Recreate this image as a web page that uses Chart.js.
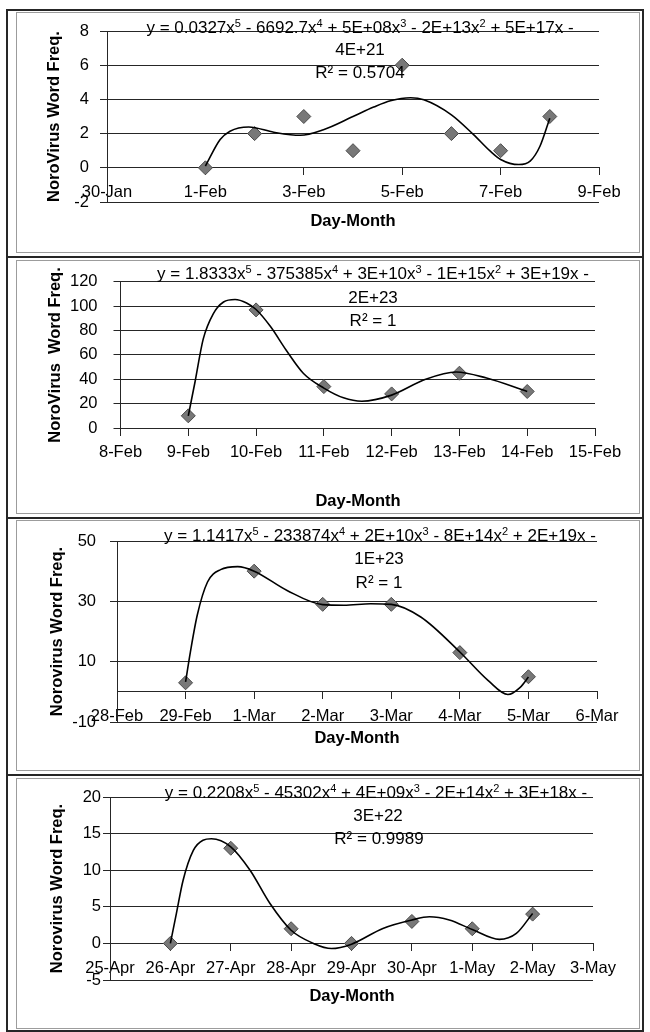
<!DOCTYPE html>
<html lang="en">
<head>
<meta charset="UTF-8">
<title>Norovirus Word Freq.</title>
<script src="https://cdn.jsdelivr.net/npm/chart.js"></script>
<style>
  body { margin: 0; background: #fff; }
  #page { position: relative; width: 650px; height: 1032px; overflow: hidden; font-family: "Liberation Sans", Arial, sans-serif; color: #000; }
  .frame { position: absolute; left: 6px; width: 634px; border: 2px solid #262626; border-bottom: none; }
  .inner { position: absolute; left: 16px; width: 622px; border: 1px solid #9c9c9c; }
  canvas { position: absolute; left: 0; }
  .txt { position: absolute; transform: translate(-50%, -50%); white-space: nowrap; font-size: 17px; line-height: 1; }
  .xt { font-weight: bold; font-size: 16.5px; }
  sup { font-size: 11px; vertical-align: 6px; line-height: 0; }
</style>
</head>
<body>
<div id="page">
  <div class="frame" style="top:9px;height:245px"></div>
  <div class="inner" style="top:12px;height:239px"></div>
  <div class="frame" style="top:256px;height:259px"></div>
  <div class="inner" style="top:260px;height:252px"></div>
  <div class="frame" style="top:517px;height:255px"></div>
  <div class="inner" style="top:520px;height:249px"></div>
  <div class="frame" style="top:774px;height:254px;border-bottom:2px solid #262626"></div>
  <div class="inner" style="top:778px;height:249px"></div>

  <canvas id="c1" width="650" height="256" style="top:0"></canvas>
  <canvas id="c2" width="650" height="261" style="top:256px"></canvas>
  <canvas id="c3" width="650" height="257" style="top:517px"></canvas>
  <canvas id="c4" width="650" height="258" style="top:774px"></canvas>

  <div class="txt" style="left:360px;top:27px">y = 0.0327x<sup>5</sup> - 6692.7x<sup>4</sup> + 5E+08x<sup>3</sup> - 2E+13x<sup>2</sup> + 5E+17x -</div>
  <div class="txt" style="left:360px;top:49px">4E+21</div>
  <div class="txt" style="left:360px;top:72px">R² = 0.5704</div>
  <div class="txt xt" style="left:353px;top:220px">Day-Month</div>

  <div class="txt" style="left:373px;top:273px">y = 1.8333x<sup>5</sup> - 375385x<sup>4</sup> + 3E+10x<sup>3</sup> - 1E+15x<sup>2</sup> + 3E+19x -</div>
  <div class="txt" style="left:373px;top:297px">2E+23</div>
  <div class="txt" style="left:373px;top:320px">R² = 1</div>
  <div class="txt xt" style="left:358px;top:500px">Day-Month</div>

  <div class="txt" style="left:380px;top:535px">y = 1.1417x<sup>5</sup> - 233874x<sup>4</sup> + 2E+10x<sup>3</sup> - 8E+14x<sup>2</sup> + 2E+19x -</div>
  <div class="txt" style="left:379px;top:558px">1E+23</div>
  <div class="txt" style="left:379px;top:582px">R² = 1</div>
  <div class="txt xt" style="left:357px;top:737px">Day-Month</div>

  <div class="txt" style="left:376px;top:792px">y = 0.2208x<sup>5</sup> - 45302x<sup>4</sup> + 4E+09x<sup>3</sup> - 2E+14x<sup>2</sup> + 3E+18x -</div>
  <div class="txt" style="left:378px;top:815px">3E+22</div>
  <div class="txt" style="left:379px;top:838px">R² = 0.9989</div>
  <div class="txt xt" style="left:352px;top:995px">Day-Month</div>
</div>
<script>
// panel 1: 30-Jan .. 9-Feb
var p1Days = ['30-Jan','31-Jan','1-Feb','2-Feb','3-Feb','4-Feb','5-Feb','6-Feb','7-Feb','8-Feb','9-Feb'];
var p1X = [2, 3, 4, 5, 6, 7, 8, 9];
var p1Freq = [0, 2, 3, 1, 6, 2, 1, 3];
var p1TrendX = [2, 2.3, 2.5, 2.88, 3.39, 3.93, 4.4, 5, 5.42, 5.76, 6.17, 6.44, 7, 7.45, 7.79, 8, 8.37, 8.6, 8.8, 9];
var p1TrendY = [0.1, 1.65, 2.14, 2.39, 2.08, 1.9, 2.23, 3.0, 3.55, 3.92, 4.1, 3.98, 3.1, 1.94, 0.97, 0.49, 0.19, 0.39, 1.26, 2.9];

// panel 2: 8-Feb .. 15-Feb
var p2Days = ['8-Feb','9-Feb','10-Feb','11-Feb','12-Feb','13-Feb','14-Feb','15-Feb'];
var p2X = [1, 2, 3, 4, 5, 6];
var p2Freq = [10, 97, 34, 28, 45, 30];
var p2TrendX = [1, 1.1, 1.22, 1.37, 1.52, 1.69, 1.86, 2, 2.21, 2.45, 2.7, 3, 3.29, 3.56, 4, 4.5, 4.95, 5.4, 6];
var p2TrendY = [10, 38, 73, 94, 103.5, 105.6, 102.7, 97.3, 83.5, 63.5, 44.8, 32.8, 24.8, 22, 27, 40, 46, 41, 30];

// panel 3: 28-Feb .. 6-Mar
var p3Days = ['28-Feb','29-Feb','1-Mar','2-Mar','3-Mar','4-Mar','5-Mar','6-Mar'];
var p3X = [1, 2, 3, 4, 5, 6];
var p3Freq = [3, 40, 29, 29, 13, 5];
var p3TrendX = [1, 1.07, 1.17, 1.32, 1.51, 1.76, 2, 2.48, 3, 3.31, 3.7, 4, 4.43, 5, 5.41, 5.7, 5.88, 6];
var p3TrendY = [3.3, 13.2, 25.4, 36.4, 40.5, 41.5, 40, 33.6, 28.9, 28.7, 29.2, 29, 24.8, 13.2, 3.8, -0.9, 1.5, 4.9];

// panel 4: 25-Apr .. 3-May
var p4Days = ['25-Apr','26-Apr','27-Apr','28-Apr','29-Apr','30-Apr','1-May','2-May','3-May'];
var p4X = [1, 2, 3, 4, 5, 6, 7];
var p4Freq = [0, 13, 2, 0, 3, 2, 4];
var p4TrendX = [1, 1.1, 1.21, 1.38, 1.54, 1.68, 2, 2.32, 2.65, 3, 3.37, 3.67, 4, 4.52, 5, 5.29, 5.62, 6, 6.45, 6.73, 7];
var p4TrendY = [0, 4.1, 8.6, 12.7, 14.1, 14.3, 13.2, 10, 5.45, 1.8, 0, -0.7, -0.1, 2.05, 3.2, 3.64, 3.2, 1.9, 0.55, 1.36, 4.1];

var FONT = '"Liberation Sans", Arial, sans-serif';
var LINE = '#262626';

function pts(xs, ys) {
    return xs.map(function (x, i) { return {x: x, y: ys[i]}; });
}

function panel(id, o) {
    new Chart(document.getElementById(id), {
        type: 'scatter',
        data: {
            datasets: [{
                data: pts(o.trendX, o.trendY),
                showLine: true,
                borderColor: '#000',
                borderWidth: 1.6,
                pointRadius: 0,
                cubicInterpolationMode: 'monotone'
            }, {
                data: pts(o.x, o.freq),
                pointStyle: 'rectRot',
                pointRadius: 7,
                backgroundColor: '#787878',
                borderColor: '#4a4a4a',
                borderWidth: 1
            }]
        },
        options: {
            responsive: false,
            animation: false,
            events: [],
            layout: { padding: o.pad },
            plugins: { legend: { display: false }, tooltip: { enabled: false } },
            scales: {
                x: {
                    type: 'linear',
                    position: { y: 0 },
                    min: 0,
                    max: o.days.length - 1,
                    grid: { drawOnChartArea: false, color: LINE, tickLength: 7 },
                    border: { color: LINE },
                    ticks: {
                        stepSize: o.xStep, autoSkip: false, maxRotation: 0, padding: 8,
                        color: '#000', font: { family: FONT, size: 16.5 },
                        callback: function (v) { return o.days[v]; }
                    }
                },
                y: {
                    min: o.yMin,
                    max: o.yMax,
                    afterFit: function (s) { s.width = o.yWidth; },
                    grid: { color: LINE, tickLength: 7 },
                    border: { color: LINE },
                    ticks: { stepSize: o.yStep, padding: o.yPad, color: '#000', font: { family: FONT, size: 16.5 } },
                    title: {
                        display: true, text: o.yTitle, color: '#000',
                        font: { family: FONT, size: 16.5, weight: 'bold' },
                        padding: { top: 4, bottom: 0 }
                    }
                }
            }
        }
    });
}

panel('c1', { days: p1Days, x: p1X, freq: p1Freq, trendX: p1TrendX, trendY: p1TrendY,
    xStep: 2, yMin: -2, yMax: 8, yStep: 2, yWidth: 66, yPad: 11,
    yTitle: 'NoroVirus Word Freq.', pad: { left: 41, right: 51, top: 31, bottom: 54 } });

panel('c2', { days: p2Days, x: p2X, freq: p2Freq, trendX: p2TrendX, trendY: p2TrendY,
    xStep: 1, yMin: 0, yMax: 120, yStep: 20, yWidth: 78.5, yPad: 16,
    yTitle: 'NoroVirus  Word Freq.', pad: { left: 42, right: 55, top: 22, bottom: 89 } });

panel('c3', { days: p3Days, x: p3X, freq: p3Freq, trendX: p3TrendX, trendY: p3TrendY,
    xStep: 1, yMin: -10, yMax: 50, yStep: 20, yWidth: 73, yPad: 14,
    yTitle: 'Norovirus Word Freq.', pad: { left: 44, right: 53, top: 24, bottom: 52 } });

panel('c4', { days: p4Days, x: p4X, freq: p4Freq, trendX: p4TrendX, trendY: p4TrendY,
    xStep: 1, yMin: -5, yMax: 20, yStep: 5, yWidth: 66, yPad: 2,
    yTitle: 'Norovirus Word Freq.', pad: { left: 44, right: 57, top: 23, bottom: 52 } });
</script>
</body>
</html>
